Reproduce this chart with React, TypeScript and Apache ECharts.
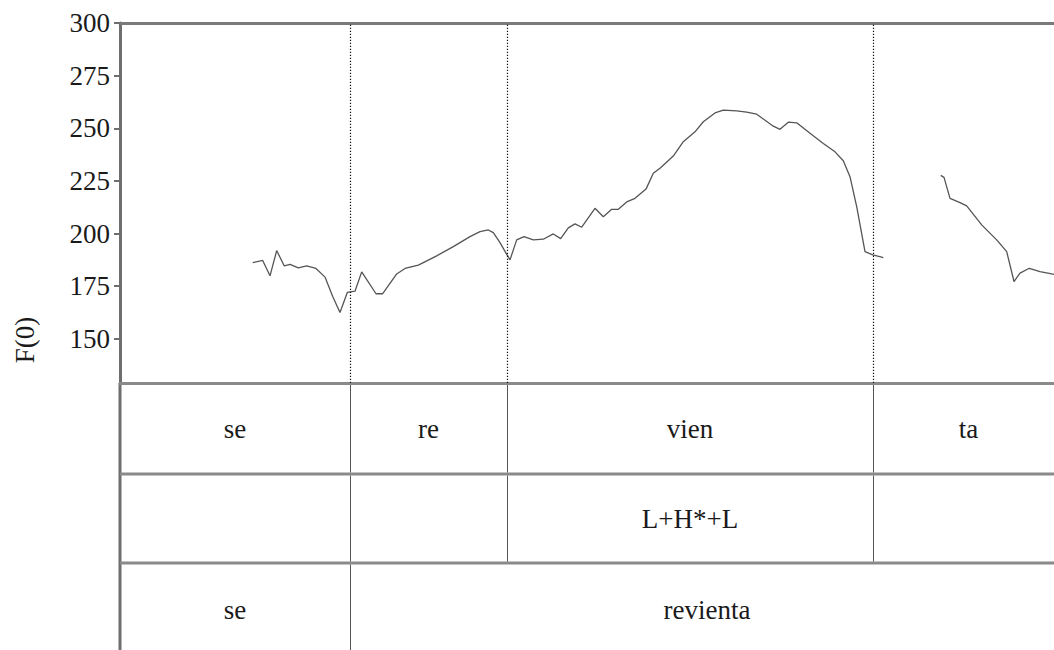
import React, { useEffect, useRef } from "react";
import * as echarts from "echarts";

// ---- data ----
const yTicks = [150, 175, 200, 225, 250, 275, 300];
const yMin = 129;
const yMax = 300;
const tMax = 934; // ms

// segment boundaries (ms) and labels for each annotation tier
const syllableBounds = [0, 230, 387, 753, 944];
const syllables = ["se", "re", "vien", "ta"];
const toneBounds = [0, 230, 387, 753, 944];
const tones = ["", "", "L+H*+L", ""];
const wordBounds = [0, 230, 944];
const words = ["se", "revienta"];

// F0 contour, first voiced stretch
const f0Time1 = [
  132.7, 142.7, 150, 156.7, 164.3, 170, 178.3, 186.7, 196, 205, 212.7, 220, 227.3, 235,
  241.7, 256, 262.7, 276.7, 285, 298.3, 303.3, 316.7, 333.3, 350, 360, 368.3, 373.3, 380,
  386, 390, 396.7, 404, 413.3, 423.3, 433.3, 440.7, 448.3, 455, 461.7, 475, 483.3, 491.7,
  498.3, 506.7, 515, 526, 533.3, 540, 553.3, 563.3, 575, 583.3, 595, 603.3, 616.7, 626.7,
  636.7, 653.3, 660, 668.3, 676.7, 690, 703.3, 715, 723.3, 730, 736.7, 745, 752.7, 761.7,
  763.3,
];
const f0Hz1 = [
  186.2, 187.2, 179.9, 191.9, 184.6, 185.3, 183.7, 184.6, 183.4, 179.3, 170.1, 162.5, 172.0, 172.6,
  181.8, 171.4, 171.4, 180.8, 183.4, 185.0, 186.2, 189.4, 193.8, 198.5, 200.9, 201.7, 200.4, 195.7,
  190.7, 187.5, 197.0, 198.5, 197.0, 197.3, 199.8, 197.6, 202.7, 204.6, 203.0, 212.0, 208.0, 211.5,
  211.5, 215.0, 216.7, 221.1, 228.6, 231.0, 236.8, 243.6, 248.3, 253.1, 257.3, 258.6, 258.3, 257.7,
  256.7, 251.0, 249.5, 252.9, 252.6, 247.6, 242.8, 238.8, 234.6, 227.0, 212.8, 191.4, 189.9, 188.8,
  188.6,
];
// F0 contour, second voiced stretch
const f0Time2 = [820.7, 824, 830, 840, 846.7, 861.7, 876.7, 886.7, 894, 900, 909.3, 920, 931.7, 934];
const f0Hz2 = [227.6, 226.7, 216.7, 214.7, 213.1, 204.1, 197.0, 191.4, 177.2, 181.2, 183.5, 181.9, 180.8, 180.6];

// ---- layout / style ----
const W = 1054;
const H = 650;
const GRID_LEFT = 120;
const GRID_TOP = 23;
const GRID_BOTTOM_Y = 383;
const ROW_Y = [383, 474, 563, 656];
const FONT = "'Liberation Serif', 'Times New Roman', serif";
const FS = 27;
const TEXT_COLOR = "#1a1a1a";
const HLINE = "#8a8a8a";
const VLINE = "#555";

export default function App() {
  const ref = useRef<HTMLDivElement>(null);

  useEffect(() => {
    document.body.style.margin = "0";
    if (!ref.current) return;
    const chart = echarts.init(ref.current, undefined, { renderer: "svg" });

    const line1 = f0Time1.map((t, i) => [t, f0Hz1[i]]);
    const line2 = f0Time2.map((t, i) => [t, f0Hz2[i]]);
    const innerBounds = syllableBounds.slice(1, -1);

    chart.setOption({
      animation: false,
      grid: {
        left: GRID_LEFT,
        top: GRID_TOP,
        right: 0,
        bottom: H - GRID_BOTTOM_Y,
        containLabel: false,
      },
      xAxis: [
        {
          type: "value",
          position: "bottom",
          min: 0,
          max: tMax,
          axisLine: { show: true, lineStyle: { color: HLINE, width: 3 } },
          axisTick: { show: false },
          axisLabel: { show: false },
          splitLine: { show: false },
        },
        {
          type: "value",
          position: "top",
          min: 0,
          max: tMax,
          axisLine: { show: true, lineStyle: { color: "#7a7a7a", width: 3 } },
          axisTick: { show: false },
          axisLabel: { show: false },
          splitLine: { show: false },
        },
      ],
      yAxis: {
        type: "value",
        min: yMin,
        max: yMax,
        axisLine: { show: true, lineStyle: { color: "#6e6e6e", width: 3 } },
        axisTick: {
          show: true,
          customValues: yTicks,
          length: 6,
          lineStyle: { color: "#6e6e6e", width: 2 },
        },
        axisLabel: {
          show: true,
          customValues: yTicks,
          margin: 10,
          color: TEXT_COLOR,
          fontFamily: FONT,
          fontSize: FS,
        },
        splitLine: { show: false },
      },
      series: [
        {
          type: "line",
          data: line1,
          symbol: "none",
          lineStyle: { color: "#555", width: 1.3 },
          markLine: {
            silent: true,
            symbol: ["none", "none"],
            label: { show: false },
            lineStyle: { color: "#111", width: 1.2, type: [1.2, 1.8] },
            data: innerBounds.map((b) => ({ xAxis: b })),
          },
        },
        {
          type: "line",
          data: line2,
          symbol: "none",
          lineStyle: { color: "#555", width: 1.3 },
        },
      ],
    });

    const px = (t: number) => chart.convertToPixel({ xAxisIndex: 0 }, t) as number;
    const graphics: any[] = [];

    // y-axis name
    graphics.push({
      type: "text",
      x: 25,
      y: 340,
      rotation: Math.PI / 2,
      style: {
        text: "F(0)",
        font: `${FS}px ${FONT}`,
        fill: TEXT_COLOR,
        align: "center",
        verticalAlign: "middle",
      },
    });

    // left border continuing through the tiers
    graphics.push({
      type: "line",
      shape: { x1: GRID_LEFT, y1: GRID_BOTTOM_Y, x2: GRID_LEFT, y2: H },
      style: { stroke: "#6e6e6e", lineWidth: 3 },
    });
    // tier separators
    [ROW_Y[1], ROW_Y[2]].forEach((y) => {
      graphics.push({
        type: "line",
        shape: { x1: GRID_LEFT, y1: y, x2: W, y2: y },
        style: { stroke: HLINE, lineWidth: 3 },
      });
    });

    const tiers: [number[], string[]][] = [
      [syllableBounds, syllables],
      [toneBounds, tones],
      [wordBounds, words],
    ];
    tiers.forEach(([bounds, labels], r) => {
      const y0 = ROW_Y[r];
      const y1 = ROW_Y[r + 1];
      bounds.slice(1, -1).forEach((b) => {
        const x = Math.round(px(b)) + 0.5;
        graphics.push({
          type: "line",
          shape: { x1: x, y1: y0 + 1.5, x2: x, y2: Math.min(y1 - 1.5, H) },
          style: { stroke: VLINE, lineWidth: 1 },
        });
      });
      labels.forEach((lab, i) => {
        if (!lab) return;
        const cx = (px(bounds[i]) + px(bounds[i + 1])) / 2;
        graphics.push({
          type: "text",
          x: cx,
          y: (y0 + y1) / 2,
          style: {
            text: lab,
            font: `${FS}px ${FONT}`,
            fill: TEXT_COLOR,
            align: "center",
            verticalAlign: "middle",
          },
        });
      });
    });

    chart.setOption({ graphic: graphics });

    return () => chart.dispose();
  }, []);

  return <div ref={ref} style={{ width: W, height: H }} />;
}
